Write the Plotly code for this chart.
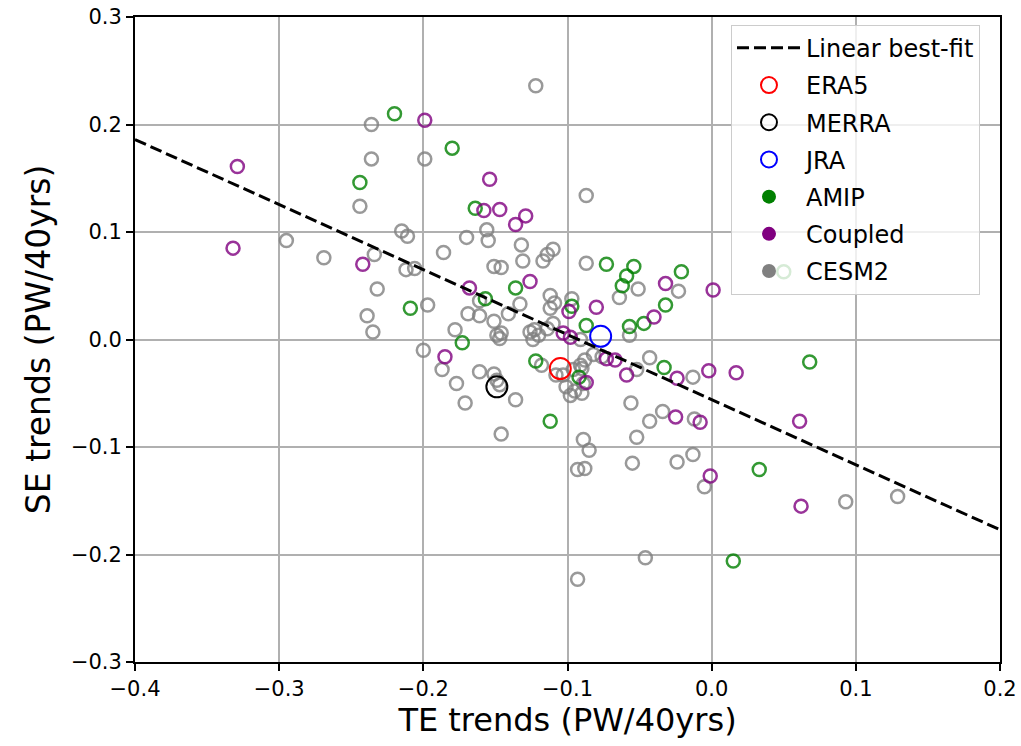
import plotly.graph_objects as go

# ---- data: transient-eddy (TE) vs stationary-eddy (SE) energy transport trends ----
# CESM2 large-ensemble members
cesm2_te = [-0.122, -0.236, -0.236, -0.199, -0.244, -0.087, -0.215, -0.211, -0.295, -0.170,
            -0.156, -0.155, -0.186, -0.132, -0.110, -0.114, -0.117, -0.131, -0.269, -0.234,
            -0.212, -0.206, -0.151, -0.146, -0.087, -0.232, -0.197, -0.239, -0.235, -0.200,
            -0.051, -0.023, -0.064, -0.161, -0.169, -0.161, -0.151, -0.141, -0.133, -0.178,
            -0.149, -0.146, -0.147, -0.187, -0.177, -0.161, -0.151, -0.149, -0.147, -0.136,
            -0.171, -0.146, -0.112, -0.109, -0.097, -0.112, -0.126, -0.123, -0.124, -0.120,
            -0.114, -0.110, -0.118, -0.091, -0.082, -0.076, -0.088, -0.091, -0.096, -0.108,
            -0.103, -0.090, -0.089, -0.101, -0.095, -0.090, -0.098, -0.057, -0.043, -0.052,
            -0.013, -0.056, -0.043, -0.034, -0.012, -0.052, -0.089, -0.085, -0.093, -0.088,
            -0.055, -0.024, -0.013, -0.005, 0.093, 0.129, -0.046, -0.093]
cesm2_se = [0.236, 0.200, 0.168, 0.168, 0.124, 0.134, 0.101, 0.096, 0.092, 0.095,
            0.102, 0.092, 0.081, 0.088, 0.084, 0.079, 0.073, 0.073, 0.076, 0.079,
            0.065, 0.066, 0.068, 0.067, 0.071, 0.047, 0.032, 0.022, 0.007, -0.010,
            0.047, 0.045, 0.039, 0.036, 0.024, 0.022, 0.017, 0.024, 0.033, 0.009,
            0.004, 0.006, 0.001, -0.028, -0.041, -0.030, -0.032, -0.038, -0.042, -0.056,
            -0.059, -0.088, 0.041, 0.034, 0.038, 0.029, 0.007, 0.009, 0.000, 0.004,
            0.010, 0.015, -0.024, 0.000, -0.014, -0.016, -0.019, -0.024, -0.028, -0.033,
            -0.033, -0.027, -0.041, -0.044, -0.048, -0.050, -0.052, 0.004, -0.017, -0.028,
            -0.035, -0.059, -0.076, -0.067, -0.074, -0.091, -0.093, -0.103, -0.121, -0.120,
            -0.115, -0.114, -0.107, -0.137, -0.151, -0.146, -0.203, -0.223]

# AMIP runs
amip_te = [-0.220, -0.180, -0.244, -0.164, -0.209, -0.157, -0.136, -0.173, -0.122, -0.112,
           -0.097, -0.087, -0.092, -0.073, -0.054, -0.059, -0.062, -0.021, -0.032, -0.057,
           -0.047, -0.033, 0.068, 0.033, 0.015, 0.050]
amip_se = [0.210, 0.178, 0.146, 0.122, 0.029, 0.038, 0.048, -0.003, -0.020, -0.076,
           0.031, 0.013, -0.035, 0.070, 0.068, 0.059, 0.050, 0.063, 0.032, 0.012,
           0.015, -0.026, -0.021, -0.121, -0.206, 0.063]

# Coupled runs
coupled_te = [-0.199, -0.329, -0.332, -0.242, -0.154, -0.158, -0.147, -0.129, -0.136, -0.168,
              -0.126, -0.185, -0.099, -0.080, -0.103, -0.098, -0.073, -0.067, -0.087, -0.059,
              -0.032, -0.040, 0.001, -0.024, -0.002, 0.017, -0.025, -0.008, 0.061, -0.001,
              0.062]
coupled_se = [0.204, 0.161, 0.085, 0.070, 0.149, 0.120, 0.121, 0.115, 0.107, 0.048,
              0.054, -0.016, 0.026, 0.030, 0.006, 0.002, -0.018, -0.019, -0.040, -0.033,
              0.052, 0.021, 0.046, -0.036, -0.029, -0.031, -0.072, -0.077, -0.076, -0.127,
              -0.155]

# Reanalyses
reanalysis_names = ["ERA5", "MERRA", "JRA"]
reanalysis_te = [-0.105, -0.149, -0.077]
reanalysis_se = [-0.027, -0.044, 0.003]
reanalysis_colors = ["red", "black", "blue"]

# Linear best-fit coefficients (slope, intercept) and the TE span it covers
fit_coef = [-0.605, -0.056]
fit_te = [-0.4, 0.2]

x_ticks = [-0.4, -0.3, -0.2, -0.1, 0.0, 0.1, 0.2]
y_ticks = [-0.3, -0.2, -0.1, 0.0, 0.1, 0.2, 0.3]

FONT = "DejaVu Sans"
ring = 13
ring_w = 2.5

fig = go.Figure()

# hollow ensemble markers (legend entries drawn separately as filled dots)
for te, se, col in [(cesm2_te, cesm2_se, "rgba(128,128,128,0.8)"),
                    (amip_te, amip_se, "rgba(0,128,0,0.8)"),
                    (coupled_te, coupled_se, "rgba(128,0,128,0.8)")]:
    fig.add_trace(go.Scatter(
        x=te, y=se, mode="markers", showlegend=False, hoverinfo="skip",
        marker=dict(symbol="circle", size=ring, color="rgba(0,0,0,0)",
                    line=dict(color=col, width=ring_w))))

for i, (name, te, se, col) in enumerate(zip(reanalysis_names, reanalysis_te,
                                             reanalysis_se, reanalysis_colors)):
    fig.add_trace(go.Scatter(
        x=[te], y=[se], mode="markers", name=name, legendrank=2 + i, legendgroup=name,
        marker=dict(symbol="circle", size=21, color="rgba(0,0,0,0)",
                    line=dict(color=col, width=2))))

fit_se = [fit_coef[0] * t + fit_coef[1] for t in fit_te]
fig.add_trace(go.Scatter(
    x=fit_te, y=fit_se, mode="lines", name="Linear best-fit", legendrank=1,
    legendgroup="fit", line=dict(color="black", width=3, dash="12px,5px")))

for i, (name, col) in enumerate([("AMIP", "green"), ("Coupled", "purple"), ("CESM2", "grey")]):
    fig.add_trace(go.Scatter(
        x=[None], y=[None], mode="markers", name=name, legendrank=10 + i, legendgroup=name,
        marker=dict(symbol="circle", size=14, color=col)))

axis_common = dict(
    showline=True, linecolor="black", linewidth=1.8, mirror=True,
    ticks="outside", ticklen=7, tickwidth=1.8, tickcolor="black",
    showgrid=True, gridcolor="#b0b0b0", gridwidth=1.5, zeroline=False,
    tickfont=dict(family=FONT, size=21, color="black"),
    tickformat=".1f", automargin=False,
)

fig.update_layout(
    width=1021, height=746,
    margin=dict(l=135, r=21, t=17, b=84),
    paper_bgcolor="white", plot_bgcolor="white",
    font=dict(family=FONT, color="black"),
    xaxis=dict(range=[-0.4, 0.2], tickvals=x_ticks, **axis_common,
               title=dict(text="TE trends (PW/40yrs)", standoff=6,
                          font=dict(family=FONT, size=32, color="black"))),
    yaxis=dict(range=[-0.3, 0.3], tickvals=y_ticks, **axis_common,
               title=dict(text="SE trends (PW/40yrs)", standoff=10,
                          font=dict(family=FONT, size=33, color="black"))),
    legend=dict(x=0.689, y=0.988, xanchor="left", yanchor="top",
                bgcolor="rgba(255,255,255,0.8)", bordercolor="#cccccc", borderwidth=1,
                font=dict(family=FONT, size=24, color="black"),
                itemwidth=64, traceorder="grouped", tracegroupgap=3),
)

fig.write_html("out.html")
